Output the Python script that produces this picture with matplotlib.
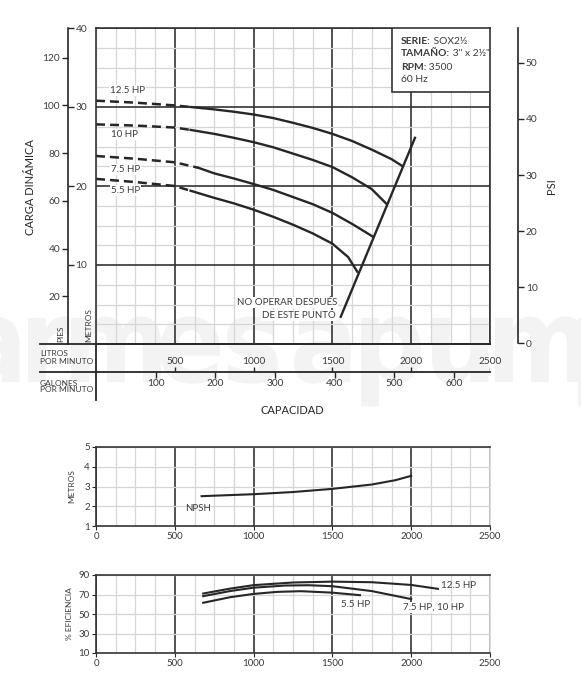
import matplotlib
matplotlib.use("Agg")
import matplotlib.pyplot as plt
import numpy as np
from matplotlib.patches import Rectangle, PathPatch
from matplotlib.textpath import TextPath
from matplotlib.font_manager import FontProperties
from matplotlib.transforms import Affine2D
from matplotlib.ticker import MultipleLocator

plt.rcParams['font.family'] = ['Lato', 'DejaVu Sans']

W, H = 581, 700
INK = '#262626'
TXT = '#3a3a3a'
GRID_LIGHT = '#d6d6d6'
GRID_DARK = '#333333'

######## Data (capacidad en litros por minuto, carga en metros)
FT_PER_M = 3.31
PSI_PER_M = 1.405
LPM_PER_GPM = 3.785

hp_names = ['12.5 HP', '10 HP', '7.5 HP', '5.5 HP']
dash_lpm = [[0, 250, 500, 600], [0, 250, 500, 600], [0, 250, 500, 650], [0, 250, 500, 600]]
dash_m = [[30.8, 30.55, 30.2, 30.0], [27.8, 27.65, 27.4, 27.1],
          [23.8, 23.45, 23.0, 22.3], [20.9, 20.5, 20.0, 19.4]]
solid_lpm = [[600, 750, 875, 1000, 1125, 1250, 1375, 1500, 1625, 1750, 1875, 1946],
             [600, 750, 875, 1000, 1125, 1250, 1375, 1500, 1625, 1750, 1845],
             [650, 750, 875, 1000, 1125, 1250, 1375, 1500, 1625, 1756],
             [600, 750, 875, 1000, 1125, 1250, 1375, 1500, 1600, 1658]]
solid_m = [[30.0, 29.7, 29.4, 29.05, 28.6, 28.0, 27.35, 26.6, 25.7, 24.6, 23.4, 22.5],
           [27.1, 26.6, 26.1, 25.55, 24.9, 24.1, 23.3, 22.4, 21.1, 19.6, 17.7],
           [22.3, 21.6, 20.95, 20.25, 19.5, 18.6, 17.7, 16.6, 15.2, 13.6],
           [19.4, 18.5, 17.8, 17.0, 16.1, 15.1, 14.0, 12.7, 11.0, 9.15]]
label_lpm = [89, 93, 93, 93]
label_m = [32.1, 26.5, 22.1, 19.4]

limit_lpm = [1553, 2024]
limit_m = [3.45, 26.1]

ft_ticks = [20, 40, 60, 80, 100, 120]
m_ticks = [10, 20, 30, 40]
psi_ticks = [0, 10, 20, 30, 40, 50]
lpm_ticks = [500, 1000, 1500, 2000, 2500]
gpm_ticks = [100, 200, 300, 400, 500, 600]

npsh_lpm = [670, 1000, 1250, 1500, 1750, 1900, 2000]
npsh_m = [2.51, 2.61, 2.72, 2.88, 3.1, 3.32, 3.54]

eff_lpm = [[680, 850, 1000, 1250, 1500, 1750, 2000, 2170],
           [680, 850, 1000, 1200, 1350, 1500, 1750, 2000],
           [680, 850, 1000, 1150, 1300, 1500, 1675]]
eff_pct = [[71, 76, 79.6, 82.3, 83.2, 82.6, 79.8, 75.8],
           [68.3, 73.5, 77.0, 79.2, 79.5, 78.5, 73.5, 65.3],
           [61.5, 67.2, 70.6, 72.7, 73.4, 71.9, 69.3]]
eff_names = ['12.5 HP', '7.5 HP, 10 HP', '5.5 HP']

info = [('SERIE:', ' SOX2½'), ('TAMAÑO:', ' 3" x 2½"'), ('RPM:', ' 3500'), ('', '60 Hz')]

# watermark letters and the left pixel edge of each one
wm_letters = list('parmesapumps')
wm_left = [-100, -37, 28, 71, 160, 227, 294, 361, 432, 495, 578, 645]


def rect(x0, y0, x1, y1):
    # pixel box, origin top-left -> figure fraction
    return [x0 / W, 1 - y1 / H, (x1 - x0) / W, (y1 - y0) / H]


def ftext(x, y, s, **kw):
    return fig.text(x / W, 1 - y / H, s, **kw)


def style_grid(ax, xminor, yminor, ymajor_dark=True):
    ax.set_facecolor('none')
    ax.xaxis.set_minor_locator(MultipleLocator(xminor))
    if yminor:
        ax.yaxis.set_minor_locator(MultipleLocator(yminor))
    ax.grid(which='minor', color=GRID_LIGHT, lw=0.9)
    ax.grid(which='major', axis='x', color=GRID_DARK, lw=1.2)
    ax.grid(which='major', axis='y', color=GRID_DARK if ymajor_dark else GRID_LIGHT,
            lw=1.2 if ymajor_dark else 0.9)
    ax.set_axisbelow(True)
    for s in ax.spines.values():
        s.set_color(GRID_DARK)
        s.set_linewidth(1.2)


fig = plt.figure(figsize=(W / 100, H / 100), dpi=100)

######## Watermark
fp = FontProperties(family='DejaVu Sans', weight='bold')
def tpath(s):
    return TextPath((0, 0), s, size=100, prop=fp)
sx = 60 / tpath('e').get_extents().width
sy = 64 / tpath('x').get_extents().y1
for ch, left in zip(wm_letters, wm_left):
    p = tpath(ch)
    x0 = p.get_extents().x0
    tr = Affine2D().translate(-x0, 0).scale(sx, sy).translate(left, H - 382)
    fig.add_artist(PathPatch(p, transform=tr, facecolor='#f3f3f3', edgecolor='none', zorder=-5))

######## Main chart
ax = fig.add_axes(rect(96, 28, 490, 344))
ax.set_xlim(0, 2500)
ax.set_ylim(0, 40)
ax.set_xticks(lpm_ticks)
ax.set_yticks(m_ticks)
style_grid(ax, 125, 2.5)
ax.tick_params(which='both', length=0, labelbottom=False, labelleft=False)

for i in range(len(hp_names)):
    ax.plot(dash_lpm[i], dash_m[i], color=INK, lw=1.8, dashes=(3.6, 2.0), solid_capstyle='butt')
    ax.plot(solid_lpm[i], solid_m[i], color=INK, lw=1.7)
    ax.text(label_lpm[i], label_m[i], hp_names[i], fontsize=7, color=TXT, va='center', ha='left',
            bbox=dict(facecolor='white', edgecolor='none', pad=0.8))
ax.plot(limit_lpm, limit_m, color=INK, lw=1.7, zorder=5)
ax.text(1529, 5.3, 'NO OPERAR DESPUÉS', fontsize=7, color=TXT, ha='right', va='center',
        bbox=dict(facecolor='white', edgecolor='none', pad=0.8))
ax.text(1522, 3.6, 'DE ESTE PUNTO', fontsize=7, color=TXT, ha='right', va='center',
        bbox=dict(facecolor='white', edgecolor='none', pad=0.8))

# info box
ax.add_patch(Rectangle((0.75, 0.798), 0.25, 0.202, transform=ax.transAxes, facecolor='white',
                       edgecolor=GRID_DARK, lw=1.2, zorder=4))
for i, (b, r) in enumerate(info):
    y = (344 - (41 + 13 * i)) / 316
    if b:
        t = ax.text(0.774, y, b, transform=ax.transAxes, fontsize=7.4, weight='bold', color=TXT,
                    va='center', ha='left', zorder=5)
        ax.annotate(r, xy=(1, 0), xycoords=t, fontsize=7.4, color=TXT, va='bottom', ha='left', zorder=5)
    else:
        ax.text(0.774, y, r, transform=ax.transAxes, fontsize=7.4, color=TXT, va='center', ha='left', zorder=5)

# feet / metres axis
axl = fig.add_axes(rect(67.7, 28, 67.9, 344))
axl.set_facecolor('none')
axl.set_ylim(0, 40 * FT_PER_M)
axl.set_yticks(ft_ticks)
axl.set_xticks([])
for k in ['top', 'bottom', 'right']:
    axl.spines[k].set_visible(False)
axl.spines['left'].set_color(INK)
axl.spines['left'].set_linewidth(1.2)
axl.tick_params(axis='y', direction='out', length=4.5, width=1, color=INK, labelsize=7.3,
                labelcolor=TXT, pad=1)
axm = axl.twinx()
axm.set_ylim(0, 40)
axm.set_yticks(m_ticks)
for s in axm.spines.values():
    s.set_visible(False)
axm.tick_params(axis='y', direction='out', length=4.5, width=1, color=INK, labelsize=7.3,
                labelcolor=TXT, pad=1)

# psi axis
axp = fig.add_axes(rect(518.1, 28, 518.3, 343.5))
axp.set_facecolor('none')
axp.set_ylim(0, 40 * PSI_PER_M)
axp.set_yticks(psi_ticks)
axp.set_xticks([])
axp.yaxis.tick_right()
for k in ['top', 'bottom', 'left']:
    axp.spines[k].set_visible(False)
axp.spines['right'].set_color(INK)
axp.spines['right'].set_linewidth(1.2)
axp.tick_params(axis='y', direction='out', length=4.5, width=1, color=INK, labelsize=7.3,
                labelcolor=TXT, pad=1)

# capacity table under the chart
axt = fig.add_axes(rect(96, 344, 490, 400))
axt.set_facecolor('none')
axt.set_xlim(0, 2500)
axt.set_ylim(400, 344)
axt.axis('off')
for yy in (344, 372):
    axt.axhline(yy, xmin=-56 / 394, xmax=1, color=INK, lw=1.3, clip_on=False)
axt.axvline(0, color=INK, lw=1.3, clip_on=False)
axt.vlines(lpm_ticks, 367, 372, color=INK, lw=1)
for v in lpm_ticks:
    axt.text(v, 362, str(v), fontsize=7.3, color=TXT, ha='center', va='center')
gpm_x = [g * LPM_PER_GPM for g in gpm_ticks]
axt.vlines(gpm_x, 372, 378, color=INK, lw=1)
for g, x in zip(gpm_ticks, gpm_x):
    axt.text(x, 383.5, str(g), fontsize=7.3, color=TXT, ha='center', va='center')

ftext(40, 357.5, 'LITROS\nPOR MINUTO', fontsize=6, color=TXT, ha='left', va='center', linespacing=1.0)
ftext(40, 386.5, 'GALONES\nPOR MINUTO', fontsize=6, color=TXT, ha='left', va='center', linespacing=1.0)
ftext(292, 410, 'CAPACIDAD', fontsize=8, color=INK, ha='center', va='center')
ftext(31, 187, 'CARGA DINÁMICA', fontsize=8, color=INK, ha='center', va='center', rotation=90)
ftext(552, 186, 'PSI', fontsize=8, color=INK, ha='center', va='center', rotation=90)
ftext(61, 342, 'PIES', fontsize=6, color=TXT, ha='center', va='bottom', rotation=90)
ftext(89, 342, 'METROS', fontsize=6, color=TXT, ha='center', va='bottom', rotation=90)

######## NPSH chart
axn = fig.add_axes(rect(96, 447, 490, 526))
axn.set_xlim(0, 2500)
axn.set_ylim(1, 5)
axn.set_xticks([0] + lpm_ticks)
axn.set_yticks([1, 2, 3, 4, 5])
style_grid(axn, 125, None, ymajor_dark=False)
axn.spines['right'].set_color(GRID_LIGHT)
axn.tick_params(which='major', direction='out', length=3, color=INK, labelsize=7, labelcolor=TXT, pad=1.5)
axn.tick_params(which='minor', length=0)
axn.plot(npsh_lpm, npsh_m, color=INK, lw=1.5)
axn.text(648, 1.88, 'NPSH', fontsize=7, color=TXT, ha='center', va='center')
ftext(72, 486, 'METROS', fontsize=6, color=TXT, ha='center', va='center', rotation=90)

######## Efficiency chart
axe = fig.add_axes(rect(96, 575, 490, 653))
axe.set_xlim(0, 2500)
axe.set_ylim(10, 90)
axe.set_xticks([0] + lpm_ticks)
axe.set_yticks([10, 30, 50, 70, 90])
style_grid(axe, 125, None, ymajor_dark=False)
axe.spines['right'].set_color(GRID_LIGHT)
axe.tick_params(which='major', direction='out', length=3, color=INK, labelsize=7, labelcolor=TXT, pad=1.5)
axe.tick_params(which='minor', length=0)
for i in range(len(eff_names)):
    axe.plot(eff_lpm[i], eff_pct[i], color=INK, lw=1.5)
axe.text(2192, 79.3, eff_names[0], fontsize=7, color=TXT, ha='left', va='center')
axe.text(2140, 56.8, eff_names[1], fontsize=7, color=TXT, ha='center', va='center',
         bbox=dict(facecolor='white', edgecolor='none', pad=0.8))
axe.text(1645, 59.5, eff_names[2], fontsize=7, color=TXT, ha='center', va='center')
ftext(70, 614, '% EFICIENCIA', fontsize=6, color=TXT, ha='center', va='center', rotation=90)

fig.savefig('out.png', dpi=100, facecolor='white')
